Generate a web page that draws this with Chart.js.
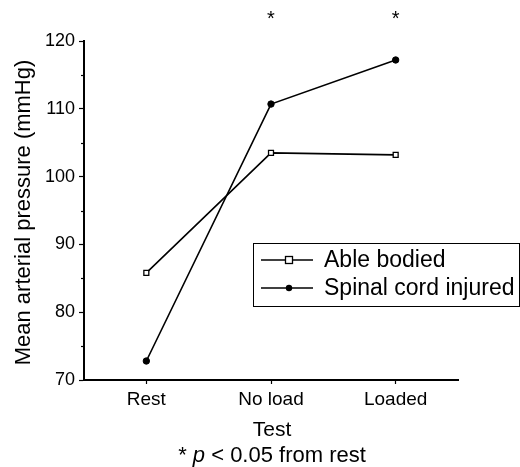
<!DOCTYPE html>
<html>
<head>
<meta charset="utf-8">
<script src="https://cdn.jsdelivr.net/npm/chart.js@4"></script>
<style>
  html, body { margin: 0; padding: 0; background: #fff; }
  #wrap { width: 520px; height: 467px; position: relative; }
</style>
</head>
<body>
<div id="wrap"><canvas id="c" width="520" height="467"></canvas></div>
<script>
const categories = ['Rest', 'No load', 'Loaded'];
const ableBodied = [85.8, 103.5, 103.2];
const spinalCordInjured = [72.8, 110.7, 117.2];
const seriesNames = ['Able bodied', 'Spinal cord injured'];
const significantAt = ['No load', 'Loaded'];
const yMin = 70, yMax = 120, yMajorStep = 10, yMinorStep = 5;
const xTitle = 'Test';
const yTitle = 'Mean arterial pressure (mmHg)';

const FONT = '"Liberation Sans", Arial, Helvetica, sans-serif';

const extrasPlugin = {
  id: 'extras',
  afterDraw(chart) {
    const ctx = chart.ctx;
    const xs = chart.scales.x, ys = chart.scales.y;
    const area = chart.chartArea;
    ctx.save();
    // minor y ticks
    ctx.strokeStyle = '#000';
    ctx.lineWidth = 1.2;
    for (let v = yMin + yMinorStep; v < yMax; v += yMajorStep) {
      const py = Math.round(ys.getPixelForValue(v)) + 0.5;
      ctx.beginPath();
      ctx.moveTo(area.left - 3, py);
      ctx.lineTo(area.left, py);
      ctx.stroke();
    }
    // y title
    ctx.fillStyle = '#000';
    ctx.save();
    ctx.translate(24, (area.top + area.bottom) / 2 + 2);
    ctx.rotate(-Math.PI / 2);
    ctx.font = '22px ' + FONT;
    ctx.textAlign = 'center';
    ctx.textBaseline = 'middle';
    ctx.fillText(yTitle, 0, 0);
    ctx.restore();
    // significance asterisks
    ctx.font = '20px ' + FONT;
    ctx.textAlign = 'center';
    ctx.textBaseline = 'middle';
    significantAt.forEach(cat => {
      const i = categories.indexOf(cat);
      ctx.fillText('*', xs.getPixelForValue(i), area.top - 22);
    });
    // x title and footnote
    const cx = (area.left + area.right) / 2 + 1;
    ctx.font = '21px ' + FONT;
    ctx.fillText(xTitle, cx, area.bottom + 50);
    const parts = [
      { t: '* ', f: '22px ' + FONT },
      { t: 'p', f: 'italic 22px ' + FONT },
      { t: ' < 0.05 from rest', f: '22px ' + FONT }
    ];
    let total = 0;
    parts.forEach(p => { ctx.font = p.f; p.w = ctx.measureText(p.t).width; total += p.w; });
    let x0 = cx - total / 2;
    ctx.textAlign = 'left';
    parts.forEach(p => { ctx.font = p.f; ctx.fillText(p.t, x0, area.bottom + 76); x0 += p.w; });

    // legend box
    const bx = 253, by = 243, bw = 266, bh = 63;
    ctx.lineWidth = 1;
    ctx.strokeStyle = '#000';
    ctx.strokeRect(bx + 0.5, by + 0.5, bw, bh);
    ctx.font = '23px ' + FONT;
    ctx.textBaseline = 'middle';
    chart.data.datasets.forEach((ds, i) => {
      const ly = by + 17 + i * 28;
      ctx.lineWidth = 1.5;
      ctx.beginPath();
      ctx.moveTo(bx + 8, ly);
      ctx.lineTo(bx + 60, ly);
      ctx.stroke();
      const mx = bx + 36;
      if (ds.pointStyle === 'rect') {
        ctx.fillStyle = '#fff';
        ctx.fillRect(mx - 3.5, ly - 3.5, 7, 7);
        ctx.lineWidth = 1.3;
        ctx.strokeRect(mx - 3.5, ly - 3.5, 7, 7);
      } else {
        ctx.fillStyle = '#000';
        ctx.beginPath();
        ctx.arc(mx, ly, 3.2, 0, Math.PI * 2);
        ctx.fill();
      }
      ctx.fillStyle = '#000';
      ctx.fillText(ds.label, bx + 71, ly + 1);
    });
    ctx.restore();
  }
};

new Chart(document.getElementById('c'), {
  type: 'line',
  data: {
    labels: categories,
    datasets: [
      {
        label: seriesNames[0],
        data: ableBodied,
        borderColor: '#000',
        borderWidth: 1.6,
        pointStyle: 'rect',
        pointRadius: 3.5,
        pointBackgroundColor: '#fff',
        pointBorderColor: '#000',
        pointBorderWidth: 1.3,
        tension: 0
      },
      {
        label: seriesNames[1],
        data: spinalCordInjured,
        borderColor: '#000',
        borderWidth: 1.6,
        pointStyle: 'circle',
        pointRadius: 3.2,
        pointBackgroundColor: '#000',
        pointBorderColor: '#000',
        pointBorderWidth: 1,
        tension: 0
      }
    ]
  },
  options: {
    responsive: false,
    animation: false,
    events: [],
    layout: { padding: { top: 41, right: 62, left: 0, bottom: 0 } },
    plugins: { legend: { display: false }, tooltip: { enabled: false } },
    scales: {
      x: {
        offset: true,
        grid: { display: true, drawOnChartArea: false, tickLength: 4, color: '#000', tickWidth: 1.2 },
        border: { display: true, color: '#000', width: 2 },
        ticks: { color: '#000', font: { family: FONT, size: 19 }, padding: 4, maxRotation: 0 },
        afterFit(s) { s.height = 87; }
      },
      y: {
        min: yMin, max: yMax,
        grid: { display: true, drawOnChartArea: false, tickLength: 5, color: '#000', tickWidth: 1.2 },
        border: { display: true, color: '#000', width: 2 },
        ticks: { stepSize: yMajorStep, color: '#000', font: { family: FONT, size: 18 }, padding: 4 },
        afterFit(s) { s.width = 84; }
      }
    }
  },
  plugins: [extrasPlugin]
});
</script>
</body>
</html>
